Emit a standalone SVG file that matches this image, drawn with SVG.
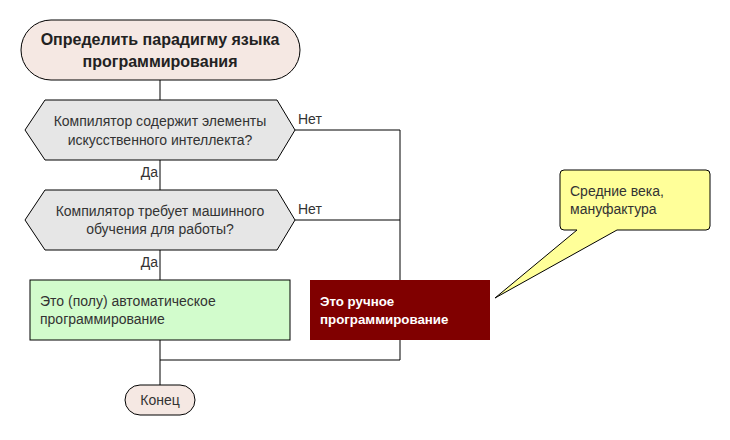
<svg xmlns="http://www.w3.org/2000/svg" width="730" height="440" viewBox="0 0 730 440">
<style>
text{font-family:"Liberation Sans",Arial,sans-serif;font-size:14px;fill:#333}
.term{fill:#f5e8e3;stroke:#000;stroke-width:1}
.dec{fill:#e6e6e6;stroke:#000;stroke-width:1}
.con{fill:none;stroke:#000;stroke-width:1}
.c{text-anchor:middle}
.b{font-weight:bold}
</style>
<rect width="730" height="440" fill="#fff"/>
<g id="connectors">
<path class="con" d="M160 80V100"/>
<path class="con" d="M160 160V190"/>
<path class="con" d="M160 250V280"/>
<path class="con" d="M295 130H400V280"/>
<path class="con" d="M295 220H400"/>
<path class="con" d="M400 340V360H160"/>
<path class="con" d="M160 340V385"/>
<text x="298" y="124">Нет</text>
<text x="298" y="214">Нет</text>
<text x="158" y="177" text-anchor="end">Да</text>
<text x="158" y="267" text-anchor="end">Да</text>
</g>
<g id="start">
<rect class="term" x="21" y="20" width="279" height="60" rx="30" ry="30"/>
<text class="c b" x="160" y="45" style="font-size:16px;fill:#222">Определить парадигму языка</text>
<text class="c b" x="160" y="67" style="font-size:16px;fill:#222">программирования</text>
</g>
<g id="q1">
<polygon class="dec" points="25,130 45,100 277,100 295,130 277,160 45,160"/>
<text class="c" x="160" y="126">Компилятор содержит элементы</text>
<text class="c" x="160" y="145">искусственного интеллекта?</text>
</g>
<g id="q2">
<polygon class="dec" points="25,220 45,190 277,190 295,220 277,250 45,250"/>
<text class="c" x="160" y="216">Компилятор требует машинного</text>
<text class="c" x="160" y="234">обучения для работы?</text>
</g>
<g id="auto">
<rect x="30" y="280" width="260" height="60" fill="#d2fccc" stroke="#000"/>
<text x="40" y="306">Это (полу) автоматическое</text>
<text x="40" y="324">программирование</text>
</g>
<g id="manual">
<rect x="310" y="280" width="180" height="60" fill="#800000"/>
<text class="b" x="320" y="306" style="fill:#fff;font-size:13.3px">Это ручное</text>
<text class="b" x="320" y="324" style="fill:#fff;font-size:13.3px">программирование</text>
</g>
<g id="note">
<path d="M564 170H706Q710 170 710 174V226Q710 230 706 230H617L495 298L577 230H564Q560 230 560 226V174Q560 170 564 170Z" fill="#ffff99" stroke="#000" stroke-width="1"/>
<text x="570" y="196">Средние века,</text>
<text x="570" y="214">мануфактура</text>
</g>
<g id="end">
<rect class="term" x="125" y="385" width="70" height="30" rx="15" ry="15"/>
<text class="c" x="160" y="405">Конец</text>
</g>
</svg>
